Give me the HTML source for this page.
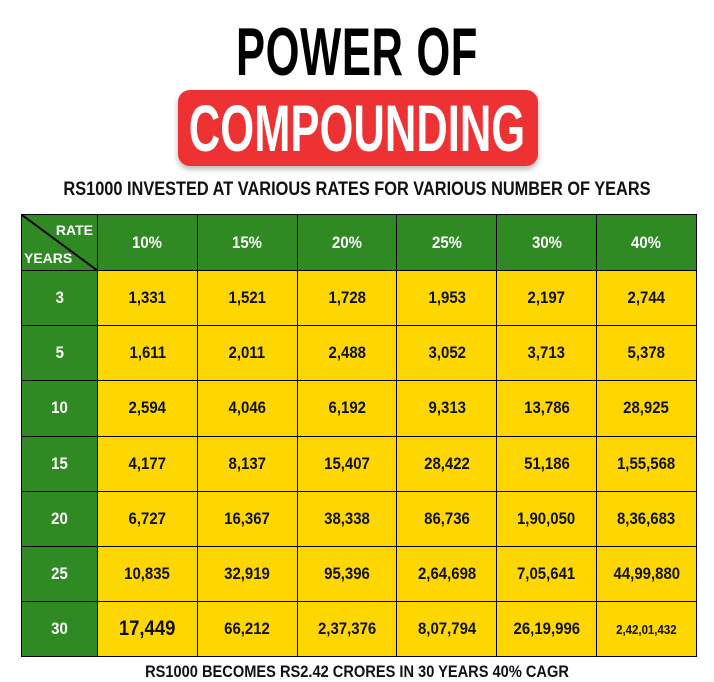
<!DOCTYPE html>
<html><head><meta charset="utf-8">
<style>
body{margin:0;background:#fff;width:714px;height:669px;overflow:hidden;position:relative;font-family:"Liberation Sans",sans-serif}
.t{position:absolute;left:0;width:714px;text-align:center;font-weight:bold}
#title1{top:16px;font-family:"Liberation Sans Narrow","Liberation Sans",sans-serif;font-size:68px;line-height:72px;color:#000;transform:scaleX(0.64);letter-spacing:1px}
#redbox{position:absolute;left:178px;top:90px;width:360px;height:76px;background:#ee3234;border-radius:12px;box-shadow:0 3px 6px rgba(0,0,0,.3)}
#title2{top:90px;font-family:"Liberation Sans Narrow","Liberation Sans",sans-serif;font-size:66px;line-height:76px;color:#fff;transform:scaleX(0.66)}
#sub{top:179px;font-size:19px;line-height:22px;color:#111;transform:scaleX(0.86)}
#foot{top:662px;font-size:17px;line-height:20px;color:#111;transform:scaleX(0.86)}
#tbl{position:absolute;left:0;top:0}
.c{position:absolute;box-sizing:border-box;border:1.5px solid #000;display:flex;align-items:center;justify-content:center;font-weight:bold;font-size:17px;transform-origin:center}
.g{background:#2f8a23;color:#fff}
.y{background:#ffd700;color:#111}
</style></head><body>
<div class="t" id="title1">POWER OF</div>
<div id="redbox"></div>
<div class="t" id="title2">COMPOUNDING</div>
<div class="t" id="sub">RS1000 INVESTED AT VARIOUS RATES FOR VARIOUS NUMBER OF YEARS</div>
<div id="tbl"></div>
<div class="t" id="foot">RS1000 BECOMES RS2.42 CRORES IN 30 YEARS 40% CAGR</div>
<script>
const rates=["10%","15%","20%","25%","30%","40%"];
const years=["3","5","10","15","20","25","30"];
const values=[
["1,331","1,521","1,728","1,953","2,197","2,744"],
["1,611","2,011","2,488","3,052","3,713","5,378"],
["2,594","4,046","6,192","9,313","13,786","28,925"],
["4,177","8,137","15,407","28,422","51,186","1,55,568"],
["6,727","16,367","38,338","86,736","1,90,050","8,36,683"],
["10,835","32,919","95,396","2,64,698","7,05,641","44,99,880"],
["17,449","66,212","2,37,376","8,07,794","26,19,996","2,42,01,432"]];
const tbl=document.getElementById('tbl');
const L=21,T=214,W0=76,CW=99.8,HH=56,RH=55.2;
function cell(x,y,w,h,cls,txt,name){
 const d=document.createElement('div');
 d.className='c '+cls;
 d.style.left=x+'px';d.style.top=y+'px';d.style.width=(w+1)+'px';d.style.height=(h+1)+'px';
 
 
 if(txt!==null){const s=document.createElement('span');s.textContent=txt;s.style.display='inline-block';s.style.transform='scaleX(0.88)';d.appendChild(s);}
 tbl.appendChild(d);return d;
}
const corner=cell(L,T,W0,HH,'g',null,'corner-header');
corner.innerHTML='<svg width="76" height="56" style="position:absolute;left:0;top:0"><line x1="0" y1="0" x2="76" y2="56" stroke="#000" stroke-width="2"/><text x="71" y="20" fill="#fff" font-size="14" font-weight="bold" text-anchor="end" font-family="Liberation Sans">RATE</text><text x="2" y="48" fill="#fff" font-size="14" font-weight="bold" font-family="Liberation Sans">YEARS</text></svg>';
rates.forEach((r,i)=>cell(L+W0+i*CW,T,CW,HH,'g',r,'rate-header-'+r.replace('%','')));
years.forEach((yv,j)=>{
 const y=T+HH+j*RH;
 cell(L,y,W0,RH,'g',yv,'year-label-'+yv);
 values[j].forEach((v,i)=>{
  const d=cell(L+W0+i*CW,y,CW,RH,'y',v,'value-'+yv+'y-'+rates[i].replace('%',''));
  if(j==6&&i==0)d.style.fontSize='21px';
  if(j==6&&i==5)d.style.fontSize='13px';
 });
});
</script>
</body></html>
